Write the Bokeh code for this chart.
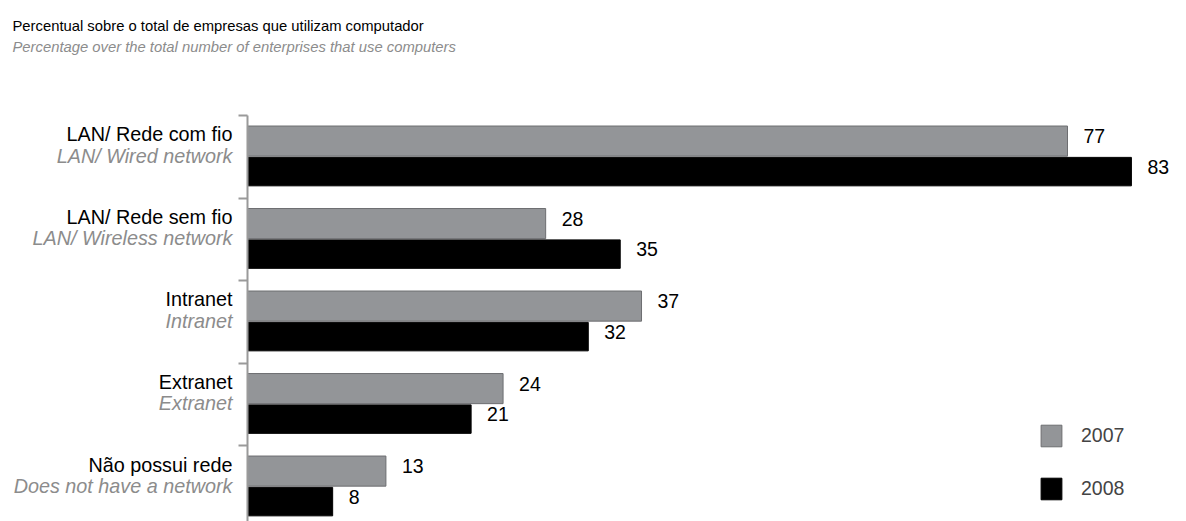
from bokeh.plotting import figure
from bokeh.models import (Range1d, LinearAxis, FixedTicker, ColumnDataSource, LabelSet,
                          Label, Legend, LegendItem)
from bokeh.core.properties import value
from bokeh.embed import file_html
from bokeh.resources import INLINE

categories_pt = ["LAN/ Rede com fio", "LAN/ Rede sem fio", "Intranet", "Extranet", "Não possui rede"]
categories_en = ["LAN/ Wired network", "LAN/ Wireless network", "Intranet", "Extranet",
                 "Does not have a network"]
values_2007 = [77, 28, 37, 24, 13]
values_2008 = [83, 35, 32, 21, 8]
series_names = ["2007", "2008"]
title_pt = "Percentual sobre o total de empresas que utilizam computador"
title_en = "Percentage over the total number of enterprises that use computers"

FONT = "Liberation Sans"
GRAY = "#939598"
TXT_GRAY = "#8c8c8c"

idx = list(range(len(categories_pt)))
src07 = ColumnDataSource(dict(y=[i + 0.31 for i in idx], v=values_2007,
                              lab=[str(v) for v in values_2007]))
src08 = ColumnDataSource(dict(y=[i + 0.68 for i in idx], v=values_2008,
                              lab=[str(v) for v in values_2008]))
cat_src = ColumnDataSource(dict(x=[0] * len(idx), y1=[i + 0.315 for i in idx],
                                y2=[i + 0.57 for i in idx], pt=categories_pt, en=categories_en))

X0, X1 = -23.19, 86.67
p = figure(width=1186, height=521, output_backend="svg", toolbar_location=None,
           x_range=Range1d(X0, X1), y_range=Range1d(4.921, -1.394),
           min_border_left=0, min_border_right=16, min_border_top=0, min_border_bottom=0,
           x_axis_type=None, y_axis_type=None)
p.outline_line_color = None
p.xgrid.visible = False
p.ygrid.visible = False

yax = LinearAxis(ticker=FixedTicker(ticks=[0, 1, 2, 3, 4, 5]), fixed_location=0,
                 bounds=(0, 5))
yax.axis_line_color = "#9a9a9a"
yax.axis_line_width = 2
yax.major_tick_line_color = "#9a9a9a"
yax.major_tick_line_width = 2
yax.major_tick_out = 0
yax.major_tick_in = 9
yax.minor_tick_line_color = None
yax.major_label_text_font_size = "0px"
yax.major_label_text_alpha = 0
yax.major_label_standoff = 0
p.add_layout(yax, "right")

r07 = p.hbar(y="y", height=0.365, left=0, right="v", source=src07,
             fill_color=GRAY, line_color="#6d6e71", line_width=1)
r08 = p.hbar(y="y", height=0.345, left=0, right="v", source=src08,
             fill_color="black", line_color="black", line_width=1)

for s in (src07, src08):
    p.add_layout(LabelSet(x="v", y="y", text="lab", source=s, x_offset=16, y_offset=5,
                          text_font=value(FONT), text_font_size=value("19.5px"),
                          text_color="black", text_baseline="middle", text_align="left"))

p.add_layout(LabelSet(x="x", y="y1", text="pt", source=cat_src, x_offset=-15,
                      text_font=value(FONT), text_font_size=value("19.8px"), text_color="black",
                      text_align="right", text_baseline="alphabetic"))
p.add_layout(LabelSet(x="x", y="y2", text="en", source=cat_src, x_offset=-15,
                      text_font=value(FONT), text_font_size=value("19.8px"), text_color=TXT_GRAY,
                      text_font_style="italic", text_align="right", text_baseline="alphabetic"))

p.add_layout(Label(x=X0, y=-1.09, x_offset=12, text=title_pt, text_font=FONT,
                   text_font_size="14.8px", text_color="black", text_baseline="alphabetic"))
p.add_layout(Label(x=X0, y=-0.835, x_offset=12, text=title_en, text_font=FONT,
                   text_font_size="14.8px", text_color=TXT_GRAY, text_font_style="italic",
                   text_baseline="alphabetic"))

legend = Legend(items=[LegendItem(label=series_names[0], renderers=[r07]),
                       LegendItem(label=series_names[1], renderers=[r08])],
                location=(1038, 19), orientation="vertical",
                glyph_width=26, glyph_height=27, spacing=26, label_standoff=17,
                label_text_font=FONT, label_text_font_size="19.5px",
                padding=0, margin=0, border_line_color=None, background_fill_alpha=0)
p.add_layout(legend, "center")

open("out.html", "w").write(file_html(p, INLINE))
